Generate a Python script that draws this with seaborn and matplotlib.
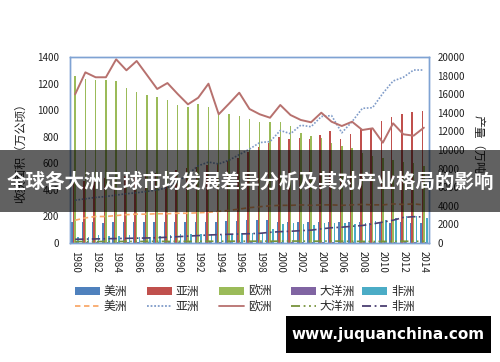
import numpy as np
import pandas as pd
import matplotlib
matplotlib.use("Agg")
import matplotlib.pyplot as plt
import seaborn as sns
from matplotlib.patches import Patch, Rectangle
from matplotlib.lines import Line2D

# ---------------- data ----------------
years = list(range(1980, 2015))
regions = ["美洲", "亚洲", "欧洲", "大洋洲", "非洲"]

area_americas = [160, 160, 160, 148, 155, 160, 155, 155, 155, 155, 155, 155, 155, 160, 160, 168, 165,
                 173, 173, 173, 160, 160, 160, 155, 155, 155, 160, 155, 155, 148, 160, 150, 155, 150, 148]
area_asia = [462, 470, 478, 488, 495, 505, 512, 522, 530, 540, 552, 562, 575, 585, 598, 615, 640,
             685, 725, 755, 795, 783, 788, 783, 813, 845, 785, 822, 855, 868, 918, 951, 973, 988, 993]
area_europe = [1260, 1232, 1224, 1224, 1219, 1169, 1139, 1111, 1101, 1076, 1041, 1021, 1044, 1023, 968, 971, 955,
               933, 910, 910, 910, 882, 829, 809, 788, 750, 730, 712, 680, 655, 640, 625, 610, 600, 578]
area_oceania = [6, 6, 6, 6, 7, 7, 7, 7, 7, 7, 7, 7, 7, 7, 7, 7, 8,
                8, 8, 8, 8, 8, 8, 8, 8, 8, 8, 7, 7, 7, 7, 7, 7, 7, 7]
area_africa = [47, 47, 60, 52, 52, 60, 47, 47, 52, 60, 65, 65, 65, 65, 60, 68, 73,
               73, 78, 103, 140, 148, 140, 135, 148, 148, 148, 140, 148, 168, 173, 186, 203, 203, 186]

prod_americas = [2450, 2700, 2850, 2850, 2950, 3050, 3100, 3100, 3150, 3150, 3200, 3200, 3250, 3300, 3400, 3500, 3650,
                 3800, 3900, 4000, 4050, 4050, 4100, 4050, 4100, 4100, 4050, 4100, 4150, 4100, 4100, 4200, 4150, 4200, 4100]
prod_asia = [4600, 4750, 4900, 5000, 5150, 5300, 5400, 5550, 5700, 5950, 6600, 7400, 8300, 8700, 8500, 8900, 9500,
             10100, 10800, 10900, 12100, 11750, 12670, 12500, 13600, 13700, 11850, 13050, 14480, 14550, 16090, 17420, 17820, 18600, 18600]
prod_europe = [15990, 18350, 17820, 17820, 19750, 18570, 19570, 18070, 16560, 17200, 16020, 14910, 15620, 17130, 13840, 14980, 16160,
               14410, 13840, 13470, 14840, 13760, 13230, 12980, 14010, 13040, 12580, 13040, 12150, 12330, 10790, 12870, 11690, 11540, 12400]
prod_oceania = [150, 160, 150, 170, 160, 170, 160, 170, 180, 170, 180, 170, 180, 190, 180, 190, 200,
                190, 200, 190, 200, 210, 200, 190, 200, 210, 190, 180, 170, 160, 170, 180, 190, 180, 190]
prod_africa = [400, 420, 440, 460, 480, 500, 520, 540, 570, 620, 680, 740, 800, 860, 900, 940, 970,
               1000, 1040, 1150, 1220, 1260, 1330, 1380, 1520, 1640, 1700, 1800, 1880, 2050, 2250, 2450, 2750, 2830, 2800]

left_ticks = [0, 200, 400, 600, 800, 1000, 1200, 1400]
right_ticks = [0, 2000, 4000, 6000, 8000, 10000, 12000, 14000, 16000, 18000, 20000]
year_labels = [str(y) if y % 2 == 0 else "" for y in years]

title_text = "全球各大洲足球市场发展差异分析及其对产业格局的影响"
left_label = "收获面积（万公顷）"
right_label = "产量（万吨）"
watermark = "www.juquanchina.com"

bar_colors = ["#4F81BD", "#C0504D", "#9BBB59", "#8064A2", "#4BACC6"]
line_colors = ["#F9A96B", "#7F9BC8", "#B7716E", "#77933C", "#4B3F72"]
line_styles = [(0, (3, 2)), (0, (1, 1)), "-", (0, (5, 2, 1, 2, 1, 2)), (0, (5, 2, 1, 2))]

# ---------------- style ----------------
sns.set_theme(style="white")
plt.rcParams["font.family"] = ["Noto Sans CJK SC", "DejaVu Sans"]
plt.rcParams["axes.unicode_minus"] = False

W, H = 500, 362
fig = plt.figure(figsize=(W / 100, H / 100), dpi=100)
fig.patch.set_facecolor("white")

L, R, T, B = 70, 429, 57, 243
ax = fig.add_axes([L / W, 1 - B / H, (R - L) / W, (B - T) / H])

area_lists = [area_americas, area_asia, area_europe, area_oceania, area_africa]
rows = []
for reg, vals in zip(regions, area_lists):
    for y, v in zip(years, vals):
        rows.append({"year": str(y), "region": reg, "area": v})
df = pd.DataFrame(rows)

sns.barplot(data=df, x="year", y="area", hue="region", hue_order=regions,
            order=[str(y) for y in years], palette=bar_colors, saturation=1,
            width=0.72, linewidth=0, ax=ax, legend=False, errorbar=None)

ax.set_xlim(-0.5, len(years) - 0.5)
ax.set_ylim(0, 1400)
ax.set_yticks(left_ticks)
ax.set_yticklabels([str(t) for t in left_ticks])
ax.set_xticks(range(len(years)))
ax.set_xticklabels(year_labels, rotation=-90)
ax.set_xlabel("")
ax.set_ylabel("")
ax.tick_params(axis="both", length=0, labelsize=7, colors="#222222")
ax.tick_params(axis="y", pad=8)
ax.tick_params(axis="x", pad=6)

ax2 = ax.twinx()
pos = np.arange(len(years))
prod_lists = [prod_americas, prod_asia, prod_europe, prod_oceania, prod_africa]
for reg, vals, c, ls in zip(regions, prod_lists, line_colors, line_styles):
    sns.lineplot(x=pos, y=vals, ax=ax2, color=c, linestyle=ls,
                 linewidth=1.4 if ls == "-" else 1.2)
ax2.set_ylim(0, 20000)
ax2.set_yticks(right_ticks)
ax2.set_yticklabels([str(t) for t in right_ticks])
ax2.set_xlim(-0.5, len(years) - 0.5)
ax2.tick_params(axis="y", length=0, labelsize=7, pad=6, colors="#222222")
ax2.set_ylabel("")

for a in (ax, ax2):
    for s in a.spines.values():
        s.set_color("#7FA3D3")
        s.set_linewidth(1.0)

fig.text(21 / W, 1 - 150 / H, left_label, rotation=90, ha="center", va="center",
         fontsize=8.5, color="#222222")
fig.text(478 / W, 1 - 150 / H, right_label, rotation=-90, ha="center", va="center",
         fontsize=8.5, color="#222222")

# ---------------- legend (5 columns, bars on top row, lines below) ----------------
col_x = [75, 147, 219, 291, 362]
for i, reg in enumerate(regions):
    hb = Patch(facecolor=bar_colors[i], edgecolor="none")
    hl = Line2D([0], [0], color=line_colors[i], linestyle=line_styles[i], linewidth=1.3)
    fig.legend([hb, hl], [reg, reg], loc="upper left",
               bbox_to_anchor=(col_x[i] / W, 1 - 285 / H), frameon=False,
               fontsize=8.5, handlelength=2.1, handleheight=0.6, handletextpad=0.35,
               borderpad=0, borderaxespad=0, labelspacing=0.2)

# ---------------- title band ----------------
fig.patches.append(Rectangle((0, 1 - 212 / H), 1, 62 / H, transform=fig.transFigure,
                             facecolor="black", alpha=0.62, edgecolor="none", zorder=5))
fig.text(0.5, 1 - 182 / H, title_text, ha="center", va="center", fontsize=14,
         fontweight="bold", color="white", zorder=6)

# ---------------- watermark ----------------
fig.patches.append(Rectangle((286 / W, 1 - 353 / H), 205 / W, 37 / H, transform=fig.transFigure,
                             facecolor="black", edgecolor="none", zorder=5))
fig.text(388 / W, 1 - 334 / H, watermark, ha="center", va="center", fontsize=11,
         fontweight="bold", color="white", family="DejaVu Sans", zorder=6)

fig.savefig("out.png", dpi=100)
